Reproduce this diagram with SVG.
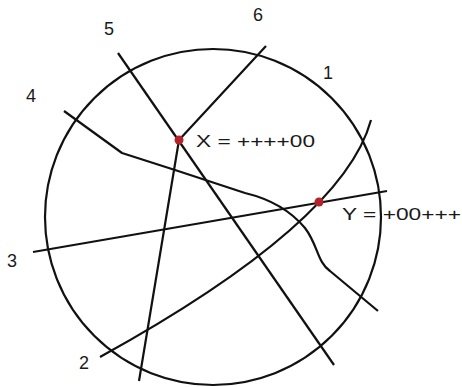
<svg xmlns="http://www.w3.org/2000/svg" width="462" height="387" viewBox="0 0 462 387">
<style>
.ln{fill:none;stroke:#111;stroke-width:2.2;stroke-linejoin:round;stroke-linecap:butt}
.lbl{font-family:"Liberation Sans",Arial,sans-serif;font-size:18px;fill:#1a1a1a}
.eq{font-family:"Liberation Sans",Arial,sans-serif;font-size:16.5px;fill:#1a1a1a}
.pt{fill:#b3242a}
</style>
<rect width="462" height="387" fill="#fff"/>
<g id="connectors">
<circle id="boundary" class="ln" cx="213" cy="217" r="168"/>
<path id="line1-2" class="ln" d="M100,357 Q343,223 371,120"/>
<line id="line3" class="ln" x1="33" y1="252" x2="387" y2="191"/>
<path id="line4" class="ln" d="M64,111 L122,153 L175,170 L245,193 C270,199 290,210 305,228 C318,245 317,262 330,271 L378,311"/>
<line id="line5" class="ln" x1="118" y1="53" x2="334" y2="365"/>
<path id="line6" class="ln" d="M266,46 L179,140 L139,381"/>
</g>
<g id="nodeX">
<circle class="pt" cx="179" cy="140" r="4.5"/>
<text class="eq" x="196" y="147" textLength="119" lengthAdjust="spacingAndGlyphs">X = ++++00</text>
</g>
<g id="nodeY">
<circle class="pt" cx="319" cy="202" r="4.5"/>
<text class="eq" x="342" y="220" textLength="119" lengthAdjust="spacingAndGlyphs">Y = +00+++</text>
</g>
<g id="labels">
<text class="lbl" x="323" y="79">1</text>
<text class="lbl" x="79" y="369">2</text>
<text class="lbl" x="7" y="267">3</text>
<text class="lbl" x="26" y="102">4</text>
<text class="lbl" x="104" y="35">5</text>
<text class="lbl" x="253" y="21">6</text>
</g>
</svg>
